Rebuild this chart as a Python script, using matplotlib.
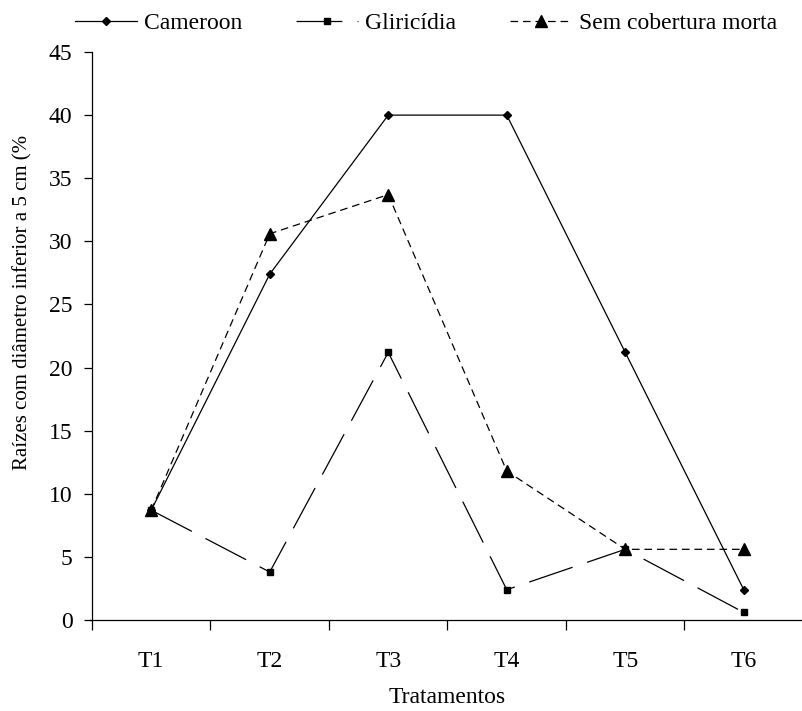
import matplotlib.pyplot as plt
import numpy as np

plt.rcParams['font.family'] = ['Liberation Serif', 'DejaVu Serif']
plt.rcParams['lines.scale_dashes'] = False

tratamentos = ['T1', 'T2', 'T3', 'T4', 'T5', 'T6']
cameroon = [8.7, 27.4, 40.0, 40.0, 21.2, 2.4]
gliricidia = [8.7, 3.8, 21.2, 2.4, 5.6, 0.6]
sem_cobertura = [8.7, 30.6, 33.7, 11.8, 5.6, 5.6]

W, H = 803, 711
fig = plt.figure(figsize=(W / 100, H / 100), dpi=100)
ax = fig.add_axes([92 / W, (H - 620) / H, 711 / W, 568 / H])

x = np.arange(len(tratamentos))
ax.plot(x, cameroon, color='black', lw=0.9, marker='D', ms=4.5,
        label='Cameroon')
ax.plot(x, gliricidia, color='black', lw=0.9, marker='s', ms=4.5,
        dashes=(33, 11), label='Gliricídia')
ax.plot(x, sem_cobertura, color='black', lw=0.9, marker='^', ms=9,
        dashes=(5.5, 3.5), label='Sem cobertura morta')

ax.set_xlim(-0.5, len(tratamentos) - 0.5)
ax.set_ylim(0, 45)
ax.set_yticks(np.arange(0, 46, 5))

# marcas do eixo x nos limites de cada categoria, rótulos no centro
ax.set_xticks(np.arange(-0.5, len(tratamentos), 1))
ax.set_xticklabels([])
ax.set_xticks(x, minor=True)
ax.set_xticklabels(tratamentos, minor=True)
ax.tick_params(axis='x', which='major', direction='out', length=7, width=0.9)
ax.tick_params(axis='x', which='minor', length=0, pad=22, labelsize=17)
ax.tick_params(axis='y', direction='out', length=6, width=0.9, labelsize=17,
               pad=8)

for s in ['top', 'right']:
    ax.spines[s].set_visible(False)
for s in ['left', 'bottom']:
    ax.spines[s].set_linewidth(0.9)
ax.spines['bottom'].set_bounds(-0.52, 5.5)

ax.set_xlabel('Tratamentos', fontsize=17, labelpad=11)
fig.text(23 / W, 1 - 302 / H, 'Raízes com diâmetro inferior a 5 cm (%',
         rotation=90, ha='center', va='center', fontsize=15)

fig.legend(loc='center', bbox_to_anchor=(426 / W, 1 - 23 / H), ncol=3,
           frameon=False, fontsize=17, handlelength=2.6, columnspacing=2.3,
           handletextpad=0.3, borderpad=0)

fig.savefig('out.png', dpi=100)
